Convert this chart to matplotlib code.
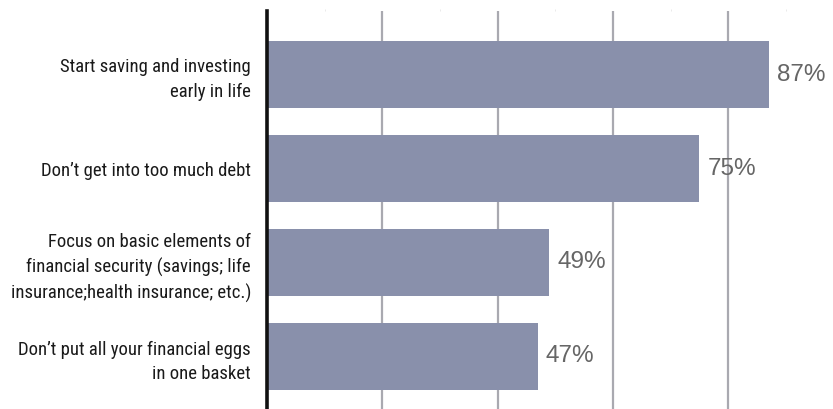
import matplotlib
matplotlib.use("Agg")
import matplotlib.pyplot as plt
from matplotlib import font_manager
from matplotlib.font_manager import FontProperties

categories = [
    "Start saving and investing\nearly in life",
    "Don\u2019t get into too much debt",
    "Focus on basic elements of\nfinancial security (savings; life\ninsurance;health insurance; etc.)",
    "Don\u2019t put all your financial eggs\nin one basket",
]
values = [87, 75, 49, 47]
value_labels = ["87%", "75%", "49%", "47%"]

# pick a condensed sans for the category labels
fonts = font_manager.fontManager.ttflist
label_fp = None
for cand in ["Roboto Condensed", "Liberation Sans Narrow", "Open Sans Condensed", "Noto Sans Condensed"]:
    hits = [f for f in fonts if f.name == cand and f.style == "normal" and f.weight in (400, "normal", "regular")]
    if hits:
        label_fp = FontProperties(fname=hits[0].fname)
        break
if label_fp is None:
    hits = [f for f in fonts if "condensed" in str(f.stretch).lower() or "Condensed" in f.fname]
    hits = [f for f in hits if "Bold" not in f.fname and "Oblique" not in f.fname and "Italic" not in f.fname]
    pref = [f for f in hits if "Roboto" in f.fname or "Open" in f.fname or "Noto" in f.fname] or hits
    if pref:
        label_fp = FontProperties(fname=pref[0].fname)
if label_fp is None:
    label_fp = FontProperties(family="DejaVu Sans")
label_fp.set_size(13.5)

W, H = 833, 409
fig = plt.figure(figsize=(W / 100, H / 100), dpi=100)
left_px, right_px = 267, 267 + 576.5
top_px, bottom_px = 11, 409
ax = fig.add_axes([left_px / W, 1 - bottom_px / H, (right_px - left_px) / W, (bottom_px - top_px) / H])

y = list(range(len(categories)))
ax.barh(y, values, height=0.713, color="#8990ab", zorder=2)
ax.set_xlim(0, 100)
ax.set_ylim(3 + 0.559, -0.676)

ax.set_xticks([20, 40, 60, 80])
ax.set_xticks([10, 30, 50, 70, 90], minor=True)
ax.grid(axis="x", which="major", color="#a9a9b0", linewidth=1.6, zorder=1)
ax.tick_params(axis="x", which="major", length=0, labelbottom=False)
ax.tick_params(axis="x", which="minor", top=True, bottom=False, length=1.5, color="#e6e6e6", labelbottom=False)

ax.set_yticks(y)
ax.set_yticklabels(categories, fontproperties=label_fp, color="#1a1a1a", linespacing=1.45)
ax.tick_params(axis="y", length=0, pad=11.5)

for s in ["top", "right", "bottom"]:
    ax.spines[s].set_visible(False)
ax.spines["left"].set_linewidth(2.6)
ax.spines["left"].set_color("#111111")
ax.spines["left"].set_zorder(3)

for yi, v, lab in zip(y, values, value_labels):
    ax.annotate(lab, (v, yi), xytext=(8, 0), textcoords="offset pixels",
                ha="left", va="center", fontsize=17.5, color="#666666", fontfamily="Liberation Sans")

fig.savefig("out.png", dpi=100)
